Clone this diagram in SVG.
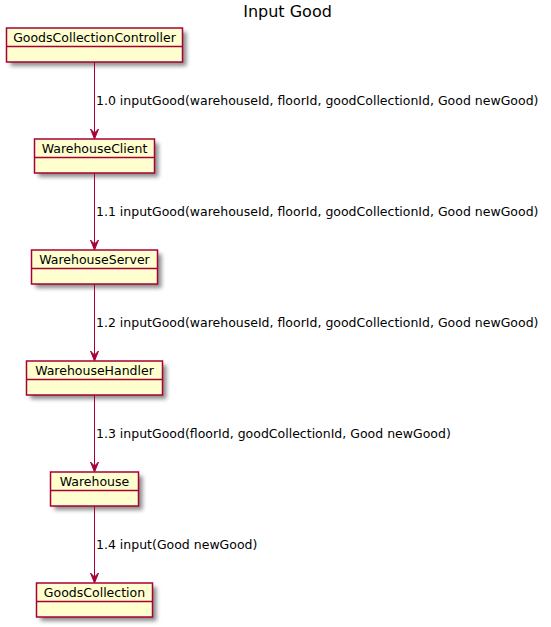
<svg xmlns="http://www.w3.org/2000/svg" width="551" height="627" viewBox="0 0 551 627">
  <style>
    .cls rect { fill: #FEFECE; stroke: #A80036; stroke-width: 1.5; }
    .cls line { stroke: #A80036; stroke-width: 1.5; }
    .cls text { font-family: "DejaVu Sans", sans-serif; font-size: 12.5px; fill: #000000; text-anchor: middle; }
    .cls rect.shadow { fill: #000000; stroke: none; opacity: 0.45; filter: url(#blur); }
    .edge line { stroke: #A80036; stroke-width: 1; }
    .edge polygon { fill: #A80036; stroke: #A80036; stroke-width: 1; }
    .edge text { font-family: "DejaVu Sans", sans-serif; font-size: 12.5px; fill: #000000; }
    .title { font-family: "DejaVu Sans", sans-serif; font-size: 16px; fill: #000000; text-anchor: middle; }
  </style>
  <defs>
    <filter id="blur" x="-20%" y="-40%" width="140%" height="180%">
      <feGaussianBlur stdDeviation="2"/>
    </filter>
  </defs>
  <rect width="551" height="627" fill="#FFFFFF"/>

  <text class="title" x="287.5" y="17">Input Good</text>

  <!-- object boxes -->
  <g id="GoodsCollectionController" class="cls">
    <rect class="shadow" x="10.5" y="32" width="176" height="34"/>
    <rect x="6.5" y="28" width="176" height="34"/>
    <line x1="6.5" y1="46.5" x2="182.5" y2="46.5"/>
    <text x="94.5" y="42">GoodsCollectionController</text>
  </g>
  <g id="WarehouseClient" class="cls">
    <rect class="shadow" x="38.5" y="143" width="120" height="34"/>
    <rect x="34.5" y="139" width="120" height="34"/>
    <line x1="34.5" y1="157.5" x2="154.5" y2="157.5"/>
    <text x="94.5" y="153">WarehouseClient</text>
  </g>
  <g id="WarehouseServer" class="cls">
    <rect class="shadow" x="35.5" y="254" width="126" height="34"/>
    <rect x="31.5" y="250" width="126" height="34"/>
    <line x1="31.5" y1="268.5" x2="157.5" y2="268.5"/>
    <text x="94.5" y="264">WarehouseServer</text>
  </g>
  <g id="WarehouseHandler" class="cls">
    <rect class="shadow" x="30.5" y="365" width="136" height="34"/>
    <rect x="26.5" y="361" width="136" height="34"/>
    <line x1="26.5" y1="379.5" x2="162.5" y2="379.5"/>
    <text x="94.5" y="375">WarehouseHandler</text>
  </g>
  <g id="Warehouse" class="cls">
    <rect class="shadow" x="54.5" y="476" width="88" height="34"/>
    <rect x="50.5" y="472" width="88" height="34"/>
    <line x1="50.5" y1="490.5" x2="138.5" y2="490.5"/>
    <text x="94.5" y="486">Warehouse</text>
  </g>
  <g id="GoodsCollection" class="cls">
    <rect class="shadow" x="40.5" y="587" width="116" height="34"/>
    <rect x="36.5" y="583" width="116" height="34"/>
    <line x1="36.5" y1="601.5" x2="152.5" y2="601.5"/>
    <text x="94.5" y="597">GoodsCollection</text>
  </g>

  <!-- connectors -->
  <g id="connectors" class="edge">
    <line x1="94.5" y1="62" x2="94.5" y2="138"/>
    <polygon points="90.5,129 94.5,139 98.5,129 94.5,133"/>
    <text x="96" y="105">1.0 inputGood(warehouseId, floorId, goodCollectionId, Good newGood)</text>

    <line x1="94.5" y1="173" x2="94.5" y2="249"/>
    <polygon points="90.5,240 94.5,250 98.5,240 94.5,244"/>
    <text x="96" y="216">1.1 inputGood(warehouseId, floorId, goodCollectionId, Good newGood)</text>

    <line x1="94.5" y1="284" x2="94.5" y2="360"/>
    <polygon points="90.5,351 94.5,361 98.5,351 94.5,355"/>
    <text x="96" y="327">1.2 inputGood(warehouseId, floorId, goodCollectionId, Good newGood)</text>

    <line x1="94.5" y1="395" x2="94.5" y2="471"/>
    <polygon points="90.5,462 94.5,472 98.5,462 94.5,466"/>
    <text x="96" y="438">1.3 inputGood(floorId, goodCollectionId, Good newGood)</text>

    <line x1="94.5" y1="506" x2="94.5" y2="582"/>
    <polygon points="90.5,573 94.5,583 98.5,573 94.5,577"/>
    <text x="96" y="549">1.4 input(Good newGood)</text>
  </g>
</svg>
